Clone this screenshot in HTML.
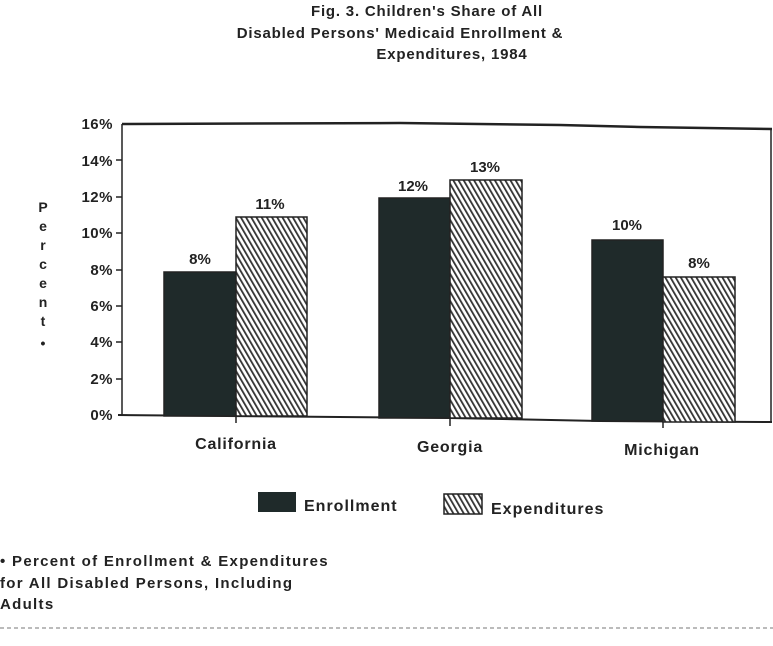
<!DOCTYPE html>
<html><head><style>
body{margin:0;background:#fff;}
svg{display:block;font-family:"Liberation Sans",sans-serif;font-weight:bold;fill:#222;}
</style></head><body>
<svg width="773" height="646" viewBox="0 0 773 646" xmlns="http://www.w3.org/2000/svg">
<defs>
<pattern id="h" patternUnits="userSpaceOnUse" width="4.5" height="4.5" patternTransform="rotate(-30)">
<rect width="4.5" height="4.5" fill="#fff"/>
<rect x="0" y="0" width="1.8" height="4.5" fill="#333"/>
</pattern>
</defs>
<rect width="773" height="646" fill="#fff"/>
<g font-size="15" text-anchor="middle" fill="#222" letter-spacing="0.8">
<text x="427" y="16">Fig. 3. Children's Share of All</text>
<text x="400" y="38">Disabled Persons' Medicaid Enrollment &amp;</text>
<text x="452" y="59">Expenditures, 1984</text>
</g>
<path d="M122 124 L400 123 L560 125 L640 127 L772 129" stroke="#222" stroke-width="2.5" fill="none"/>
<path d="M122 124 L122 415" stroke="#222" stroke-width="1.5"/>
<path d="M771 129 L771 422" stroke="#222" stroke-width="1.5"/>
<path d="M118 415 L450 418 L600 421 L772 422" stroke="#222" stroke-width="2" fill="none"/>
<g stroke="#222" stroke-width="1.5">
<line x1="116" y1="160" x2="122" y2="160"/><line x1="116" y1="197" x2="122" y2="197"/>
<line x1="116" y1="233" x2="122" y2="233"/><line x1="116" y1="270" x2="122" y2="270"/>
<line x1="116" y1="306" x2="122" y2="306"/><line x1="116" y1="342" x2="122" y2="342"/>
<line x1="116" y1="379" x2="122" y2="379"/>
<line x1="236" y1="416" x2="236" y2="423"/><line x1="450" y1="418" x2="450" y2="426"/><line x1="663" y1="421" x2="663" y2="428"/>
</g>
<g font-size="15" text-anchor="end" letter-spacing="0.5">
<text x="113" y="129">16%</text><text x="113" y="166">14%</text><text x="113" y="202">12%</text>
<text x="113" y="238">10%</text><text x="113" y="275">8%</text><text x="113" y="311">6%</text>
<text x="113" y="347">4%</text><text x="113" y="384">2%</text><text x="113" y="420">0%</text>
</g>
<g font-size="14" text-anchor="middle">
<text x="43" y="212">P</text><text x="43" y="231">e</text><text x="43" y="250">r</text>
<text x="43" y="269">c</text><text x="43" y="288">e</text><text x="43" y="307">n</text>
<text x="43" y="326">t</text><text x="43" y="348">•</text>
</g>
<g stroke="#222" stroke-width="1.5">
<rect x="164" y="272" width="72" height="144" fill="#1f2a2a"/>
<rect x="236" y="217" width="71" height="199" fill="url(#h)"/>
<rect x="379" y="198" width="71" height="220" fill="#1f2a2a"/>
<rect x="450" y="180" width="72" height="238" fill="url(#h)"/>
<rect x="592" y="240" width="71" height="181" fill="#1f2a2a"/>
<rect x="663" y="277" width="72" height="145" fill="url(#h)"/>
</g>
<g font-size="15" text-anchor="middle">
<text x="200" y="264">8%</text><text x="270" y="209">11%</text>
<text x="413" y="191">12%</text><text x="485" y="172">13%</text>
<text x="627" y="230">10%</text><text x="699" y="268">8%</text>
</g>
<g font-size="16" text-anchor="middle" letter-spacing="0.8">
<text x="236" y="449">California</text><text x="450" y="452">Georgia</text><text x="662" y="455">Michigan</text>
</g>
<rect x="258" y="492" width="38" height="20" fill="#1f2a2a"/>
<text x="304" y="511" font-size="16" letter-spacing="1">Enrollment</text>
<rect x="444" y="494" width="38" height="20" fill="url(#h)" stroke="#222" stroke-width="1.5"/>
<text x="491" y="514" font-size="16" letter-spacing="1">Expenditures</text>
<g font-size="15" letter-spacing="1.3">
<text x="0" y="566">• Percent of Enrollment &amp; Expenditures</text>
<text x="0" y="588">for All Disabled Persons, Including</text>
<text x="0" y="609">Adults</text>
</g>
<line x1="0" y1="628" x2="773" y2="628" stroke="#777" stroke-width="1" stroke-dasharray="4 3"/>
</svg>
</body></html>
